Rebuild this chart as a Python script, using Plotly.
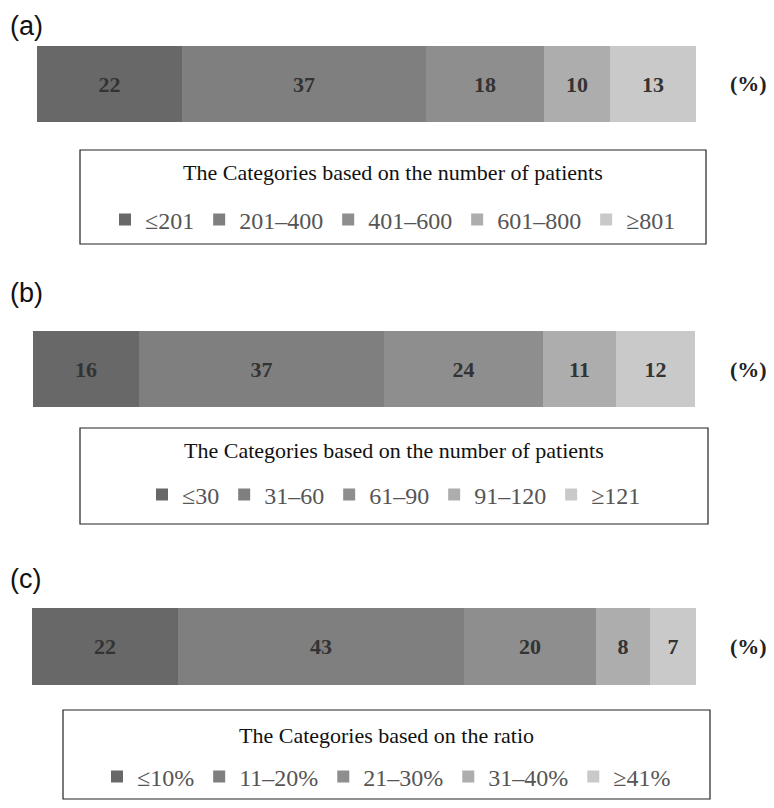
import plotly.graph_objects as go

# panel (a): number of patients
cats_a = ["≤201", "201–400", "401–600", "601–800", "≥801"]
vals_a = [22, 37, 18, 10, 13]

# panel (b): number of patients
cats_b = ["≤30", "31–60", "61–90", "91–120", "≥121"]
vals_b = [16, 37, 24, 11, 12]

# panel (c): ratio
cats_c = ["≤10%", "11–20%", "21–30%", "31–40%", "≥41%"]
vals_c = [22, 43, 20, 8, 7]

titles = [
    "The Categories based on the number of patients",
    "The Categories based on the number of patients",
    "The Categories based on the ratio",
]
panel_labels = ["(a)", "(b)", "(c)"]

colors = ["#686868", "#7f7f7f", "#8e8e8e", "#adadad", "#c9c9c9"]

# page body has an 8px margin, so the figure is drawn 8px in
OFF = 8
W, H = 774 - 2 * OFF, 808 - 2 * OFF


def py(pix):
    """pixel row in window -> paper y"""
    return 1 - (pix - OFF) / H


def px(pix):
    return (pix - OFF) / W


# layout of each panel in window pixels: bar box, legend box
panels = [
    dict(bar=(37, 696, 46, 122), box=(80, 706, 150, 244), title_y=172, item_y=220, lab_y=26),
    dict(bar=(33, 695, 331, 407), box=(80, 708, 428, 524), title_y=450, item_y=495, lab_y=293),
    dict(bar=(32, 696, 608, 685), box=(63, 710, 710, 799), title_y=735, item_y=777, lab_y=579),
]

fig = go.Figure()
data = [(cats_a, vals_a), (cats_b, vals_b), (cats_c, vals_c)]
legend_names = ["legend", "legend2", "legend3"]

for i, (cats, vals) in enumerate(data):
    ax = "" if i == 0 else str(i + 1)
    for j, (c, v) in enumerate(zip(cats, vals)):
        fig.add_trace(
            go.Bar(
                x=[v],
                y=[0],
                orientation="h",
                name=c,
                marker=dict(color=colors[j], line=dict(width=0)),
                text=[v],
                textposition="inside",
                insidetextanchor="middle",
                textangle=0,
                textfont=dict(family="Liberation Serif", size=22, color="#333333", weight="bold"),
                xaxis="x" + ax,
                yaxis="y" + ax,
                legend=legend_names[i],
                width=1,
            )
        )

layout = dict(
    width=W,
    height=H,
    margin=dict(l=0, r=0, t=0, b=0),
    plot_bgcolor="white",
    paper_bgcolor="white",
    barmode="stack",
    bargap=0,
    shapes=[],
    annotations=[],
)

for i, p in enumerate(panels):
    ax = "" if i == 0 else str(i + 1)
    x0, x1, y0, y1 = p["bar"]
    layout["xaxis" + ax] = dict(
        domain=[px(x0), px(x1)], range=[0, 100], visible=False, anchor="y" + ax, fixedrange=True
    )
    layout["yaxis" + ax] = dict(
        domain=[py(y1), py(y0)], range=[-0.5, 0.5], visible=False, anchor="x" + ax, fixedrange=True
    )
    bx0, bx1, by0, by1 = p["box"]
    layout["shapes"].append(
        dict(type="rect", xref="paper", yref="paper", x0=px(bx0), x1=px(bx1),
             y0=py(by1), y1=py(by0), line=dict(color="#222222", width=1.2))
    )
    layout["annotations"].append(
        dict(text=titles[i], xref="paper", yref="paper", x=px((bx0 + bx1) / 2), y=py(p["title_y"]),
             xanchor="center", yanchor="middle", showarrow=False,
             font=dict(family="Liberation Serif", size=22, color="#111111"))
    )
    layout["annotations"].append(
        dict(text=panel_labels[i], xref="paper", yref="paper", x=0, y=py(p["lab_y"]),
             xanchor="left", yanchor="middle", showarrow=False,
             font=dict(family="Liberation Sans", size=27, color="#111111"))
    )
    layout["annotations"].append(
        dict(text="(%)", xref="paper", yref="paper", x=px(748), y=py((y0 + y1) / 2),
             xanchor="center", yanchor="middle", showarrow=False,
             font=dict(family="Liberation Serif", size=22, color="#222222", weight="bold"))
    )
    layout[legend_names[i]] = dict(
        orientation="h",
        x=px((bx0 + bx1) / 2),
        y=py(p["item_y"]),
        xanchor="center",
        yanchor="middle",
        traceorder="normal",
        font=dict(family="Liberation Serif", size=24, color="#555555"),
        bgcolor="rgba(0,0,0,0)",
        borderwidth=0,
        itemwidth=30,
    )

fig.update_layout(**layout)
fig.update_layout(showlegend=True, uniformtext=dict(minsize=10, mode="show"))

fig.write_html("out.html")
